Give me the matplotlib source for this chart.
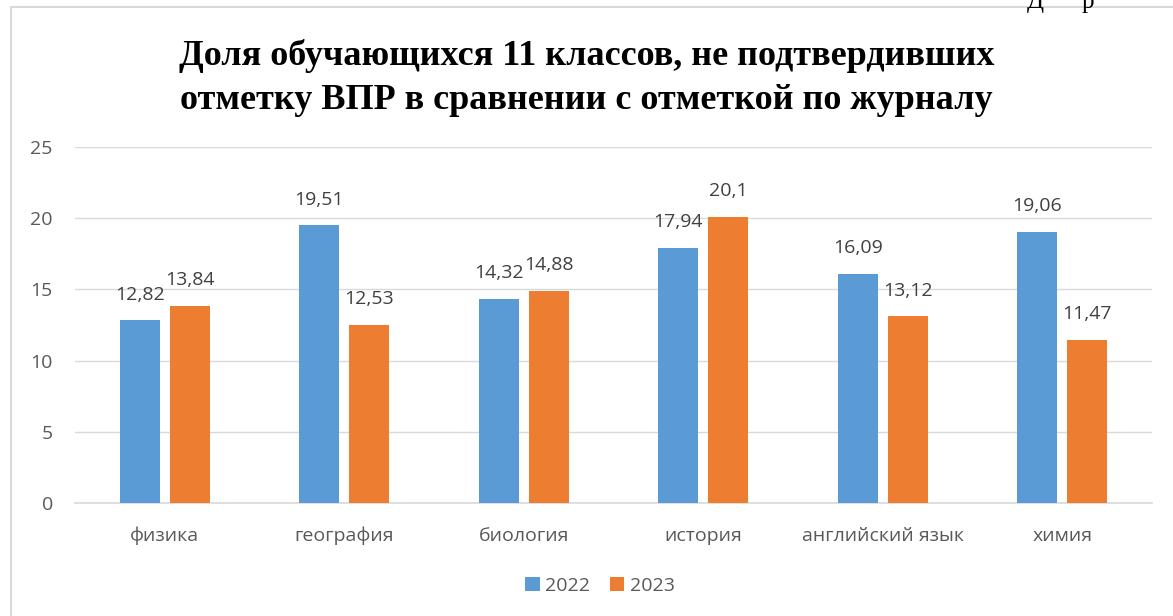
import matplotlib
matplotlib.use("Agg")
import matplotlib.pyplot as plt
import numpy as np
from matplotlib.patches import Rectangle

categories = ["физика", "география", "биология", "история", "английский язык", "химия"]
series_names = ["2022", "2023"]
values_2022 = [12.82, 19.51, 14.32, 17.94, 16.09, 19.06]
values_2023 = [13.84, 12.53, 14.88, 20.1, 13.12, 11.47]
labels_2022 = ["12,82", "19,51", "14,32", "17,94", "16,09", "19,06"]
labels_2023 = ["13,84", "12,53", "14,88", "20,1", "13,12", "11,47"]
yticks = [0, 5, 10, 15, 20, 25]

blue = "#5B9BD5"
orange = "#ED7D31"
gray = "#595959"
font = ["Open Sans", "DejaVu Sans"]
fs = 14

W, H = 1173, 616
fig = plt.figure(figsize=(W / 100, H / 100), dpi=100)

# outer chart border
fig.patches.append(Rectangle((11 / W, -0.05), 1.2, (H - 7) / H + 0.05,
                             transform=fig.transFigure, fill=False,
                             edgecolor="#D9D9D9", linewidth=1.5))

# cropped text fragment at very top right (only the lower part is visible)
fig.text(1027 / W, 1 - 2 / H, "Д", fontsize=18, family="Liberation Serif", va="center", ha="left")
fig.text(1082 / W, 1 - 2 / H, "р", fontsize=18, family="Liberation Serif", va="center", ha="left")

left, right = 75 / W, 1152 / W
bottom, top = 1 - 503 / H, 1 - 147 / H
ax = fig.add_axes([left, bottom, right - left, top - bottom])

x = np.arange(len(categories))
bw = 40 / 179.5
gap = 10 / 179.5
off = (bw + gap) / 2
b1 = ax.bar(x - off, values_2022, bw, color=blue, label=series_names[0], zorder=3)
b2 = ax.bar(x + off, values_2023, bw, color=orange, label=series_names[1], zorder=3)

for rects, labs in ((b1, labels_2022), (b2, labels_2023)):
    for r, t in zip(rects, labs):
        ax.annotate(t, (r.get_x() + r.get_width() / 2, r.get_height()),
                    xytext=(0, 12), textcoords="offset points", ha="center", va="bottom",
                    fontsize=fs, color="#404040", family=font)

ax.set_xlim(-0.5, len(categories) - 0.5)
ax.set_ylim(0, 25)
ax.set_yticks(yticks)
ax.set_yticklabels([str(v) for v in yticks], fontsize=fs, color=gray, family=font)
ax.set_xticks(x)
ax.set_xticklabels(categories, fontsize=fs, color=gray, family=font)
ax.tick_params(axis="both", length=0)
ax.tick_params(axis="y", pad=16)
ax.tick_params(axis="x", pad=17)
ax.grid(axis="y", color="#D9D9D9", linewidth=1, zorder=0)
for s in ["top", "right", "left"]:
    ax.spines[s].set_visible(False)
ax.spines["bottom"].set_color("#D9D9D9")
ax.spines["bottom"].set_linewidth(1.2)

fig.text(0.5, 1 - 78 / H, "Доля обучающихся 11 классов, не подтвердивших\nотметку ВПР в сравнении с отметкой по журналу",
         ha="center", va="center", fontsize=26, fontweight="bold", family="Liberation Serif",
         linespacing=1.42)

fig.legend(handles=[b1, b2], labels=series_names, loc="center", bbox_to_anchor=(600 / W, 1 - 586 / H),
           ncol=2, frameon=False, prop={"family": font, "size": fs}, handlelength=0.75,
           handleheight=0.75, columnspacing=1.0, handletextpad=0.3, labelcolor=gray)

fig.savefig("out.png", dpi=100, facecolor="white")
